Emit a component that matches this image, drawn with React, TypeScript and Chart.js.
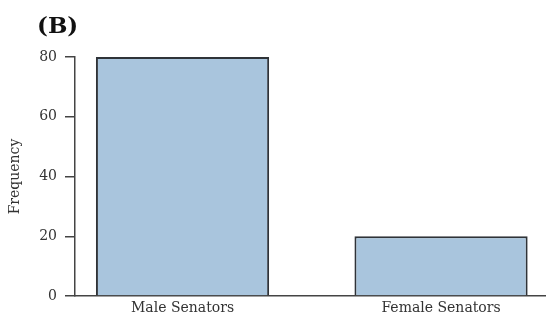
import React, { useEffect, useRef } from "react";
import { Chart, registerables } from "chart.js";

Chart.register(...registerables);

const categories = ["Male Senators", "Female Senators"];
const frequencies = [80, 20];
const yTicks = [0, 20, 40, 60, 80];
const panelLabel = "(B)";
const yTitle = "Frequency";

const titlePlugin = {
  id: "panelLabel",
  afterDraw(chart: any) {
    const ctx = chart.ctx;
    ctx.save();
    ctx.font = "bold 23px 'DejaVu Serif'";
    ctx.fillStyle = "#111";
    ctx.textAlign = "left";
    ctx.textBaseline = "alphabetic";
    ctx.fillText(panelLabel, 37, 33);
    ctx.restore();
  },
};

export default function App() {
  const ref = useRef<HTMLCanvasElement | null>(null);
  useEffect(() => {
    if (!ref.current) return;
    const chart = new Chart(ref.current, {
      type: "bar",
      data: {
        datasets: [
          {
            data: frequencies.map((v, i) => ({ x: i, y: v })),
            backgroundColor: "#a9c5dd",
            borderColor: "#2f3338",
            borderWidth: 2,
            barPercentage: 0.67,
            categoryPercentage: 1,
          },
        ],
      },
      options: {
        animation: false,
        responsive: false,
        maintainAspectRatio: false,
        layout: { padding: { top: 57, right: 0, bottom: 0, left: 0 } },
        plugins: { legend: { display: false }, tooltip: { enabled: false }, title: { display: false } },
        scales: {
          x: {
            type: "linear",
            offset: false,
            min: -0.416,
            max: 1.406,
            afterBuildTicks: (s: any) => {
              s.ticks = categories.map((_, i) => ({ value: i }));
            },
            afterFit: (s: any) => {
              s.height = 26;
            },
            ticks: {
              callback: (v: any) => categories[v as number] ?? "",
              color: "#333",
              font: { family: "'DejaVu Serif'", size: 14 },
              padding: 4,
              maxRotation: 0,
              autoSkip: false,
            },
            grid: { display: false, drawTicks: false },
            border: { display: true, color: "#444", width: 1.5 },
          },
          y: {
            min: 0,
            max: 80,
            afterBuildTicks: (s: any) => {
              s.ticks = yTicks.map((v) => ({ value: v }));
            },
            afterFit: (s: any) => {
              s.width = 75;
            },
            ticks: {
              color: "#333",
              font: { family: "'DejaVu Serif'", size: 14 },
              padding: 8,
            },
            grid: { drawOnChartArea: false, drawTicks: true, tickLength: 10, color: "#444", lineWidth: 1.5 },
            border: { display: true, color: "#444", width: 1.5 },
            title: {
              display: true,
              text: yTitle,
              color: "#333",
              font: { family: "'DejaVu Serif'", size: 14 },
              padding: { top: 7, bottom: 0 },
            },
          },
        },
      },
      plugins: [titlePlugin],
    });
    return () => chart.destroy();
  }, []);
  return (
    <div style={{ position: "absolute", left: 0, top: 0, width: 546, height: 322 }}>
      <canvas ref={ref} width={546} height={322} />
    </div>
  );
}
